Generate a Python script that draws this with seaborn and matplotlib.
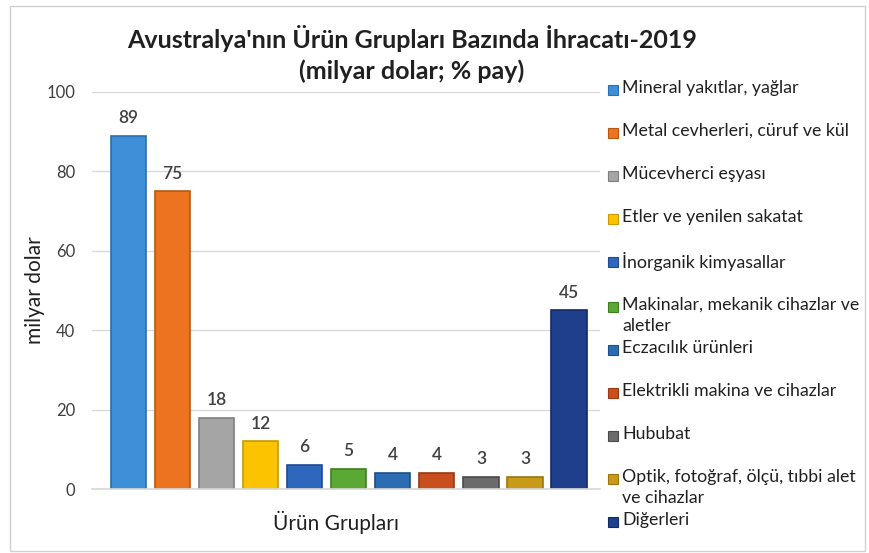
import matplotlib
matplotlib.use("Agg")
import matplotlib.pyplot as plt
import seaborn as sns
import pandas as pd
from matplotlib.patches import Rectangle

categories = [
    "Mineral yakıtlar, yağlar",
    "Metal cevherleri, cüruf ve kül",
    "Mücevherci eşyası",
    "Etler ve yenilen sakatat",
    "İnorganik kimyasallar",
    "Makinalar, mekanik cihazlar ve\naletler",
    "Eczacılık ürünleri",
    "Elektrikli makina ve cihazlar",
    "Hububat",
    "Optik, fotoğraf, ölçü, tıbbi alet\nve cihazlar",
    "Diğerleri",
]
values = [89, 75, 18, 12, 6, 5, 4, 4, 3, 3, 45]
colors = ["#3f8fd8", "#ec7420", "#a5a5a5", "#fcc400", "#2f67bd", "#5ba834",
          "#2b6cb3", "#c9501e", "#6b6b6b", "#c99a17", "#1f3f8c"]
edge_colors = ["#2a6fb0", "#b9570f", "#7f7f7f", "#c99a00", "#1f4a90", "#3f7f22",
               "#1d4f88", "#9a3a12", "#4a4a4a", "#9a7410", "#142a66"]
yticks = [0, 20, 40, 60, 80, 100]

sns.set_theme(style="white")
plt.rcParams['font.family'] = ['Lato', 'DejaVu Sans']

fig = plt.figure(figsize=(8.69, 5.53), dpi=100)
W, H = 869, 553
ax = fig.add_axes([92 / W, 1 - 489 / H, (600 - 92) / W, (489 - 92) / H])

df = pd.DataFrame({"cat": categories, "val": values})
sns.barplot(data=df, x="cat", y="val", hue="cat", palette=colors, legend=False,
            width=0.8, ax=ax, saturation=1)
for p, ec in zip(ax.patches, edge_colors):
    p.set_edgecolor(ec)
    p.set_linewidth(1.2)

ax.set_ylim(0, 100)
ax.set_xlim(-0.82, 10.70)
ax.set_yticks(yticks)
ax.set_yticklabels([str(t) for t in yticks], fontsize=12, color="#404040")
ax.tick_params(axis="y", length=0, pad=12)
ax.set_xticks([])
ax.yaxis.grid(True, color="#d9d9d9", linewidth=1)
ax.set_axisbelow(True)
for s in ["top", "right", "left"]:
    ax.spines[s].set_visible(False)
ax.spines["bottom"].set_color("#d9d9d9")
ax.set_xlabel("Ürün Grupları", fontsize=15, color="#202020")
ax.xaxis.set_label_coords((336 - 92) / (600 - 92), -(511 - 489) / (489 - 92))
ax.set_ylabel("milyar dolar", fontsize=15, color="#202020")
ax.yaxis.set_label_coords(-(92 - 45) / (600 - 92), 0.5)

for i, v in enumerate(values):
    ax.annotate(str(v), (i, v), xytext=(0, 7), textcoords="offset points",
                ha="center", va="bottom", fontsize=12.5, color="#404040",
                fontweight="semibold")

fig.text(412 / W, 1 - 38 / H, "Avustralya'nın Ürün Grupları Bazında İhracatı-2019",
         ha="center", va="center", fontsize=18, fontweight="bold", color="#202020")
fig.text(412 / W, 1 - 71 / H, "(milyar dolar; % pay)",
         ha="center", va="center", fontsize=18, fontweight="bold", color="#202020")

# legend
leg_y = [90, 133, 176, 219, 262, 307, 350, 393, 436, 479, 522]
for lab, c, ec, y in zip(categories, colors, edge_colors, leg_y):
    fig.patches.append(Rectangle((608 / W, 1 - (y + 5) / H), 10 / W, 10 / H,
                                 transform=fig.transFigure, facecolor=c,
                                 edgecolor=ec, linewidth=0.8))
    fig.text(622 / W, 1 - (y - 10) / H, lab, ha="left", va="top",
             fontsize=12.8, color="#202020", linespacing=1.38)

# outer border
fig.patches.append(Rectangle((10 / W, 2 / H), (W - 14) / W, (H - 8) / H,
                             transform=fig.transFigure, facecolor="none",
                             edgecolor="#d0d0d0", linewidth=1))

fig.savefig("out.png", dpi=100)
